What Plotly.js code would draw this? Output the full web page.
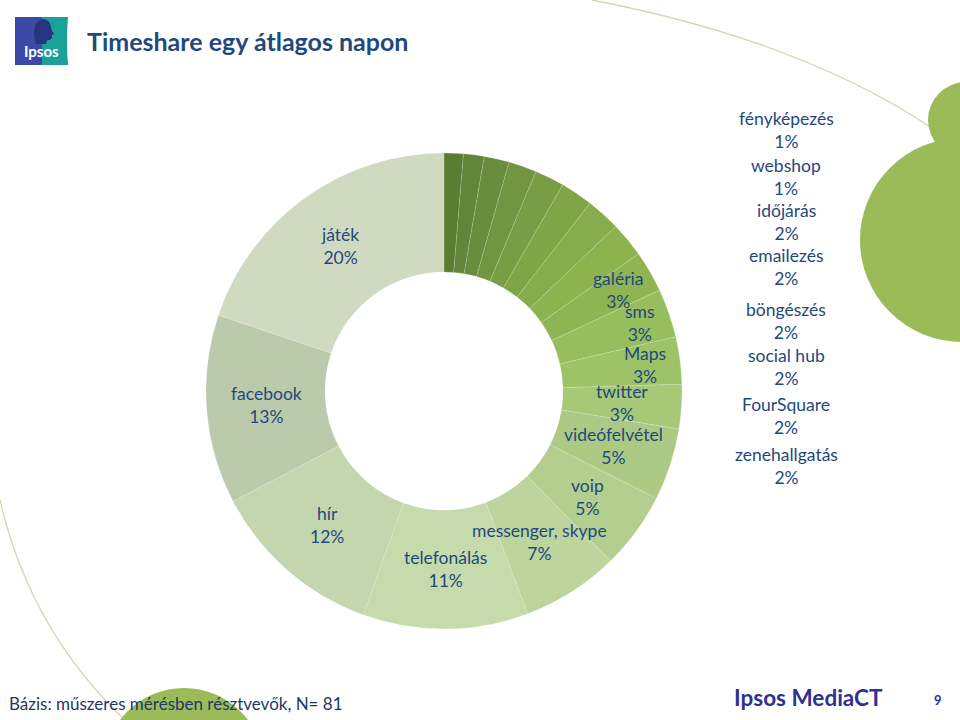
<!DOCTYPE html>
<html>
<head>
<meta charset="utf-8">
<script src="https://cdn.plot.ly/plotly-3.0.1.min.js"></script>
<style>html,body{margin:0;padding:0;background:#fff;}#chart{width:960px;height:720px;}</style>
</head>
<body>
<div id="chart"></div>
<script>
// ---- data ----
const categories = ["fényképezés","webshop","időjárás","emailezés","böngészés","social hub","FourSquare","zenehallgatás","galéria","sms","Maps","twitter","videófelvétel","voip","messenger, skype","telefonálás","hír","facebook","játék"];
// share of time (%); labels show the rounded value
const shares = [1.3,1.4,1.7,1.9,2.0,2.2,2.3,2.4,2.8,3.3,3.2,3.0,4.9,5.2,6.6,11.2,11.8,12.8,19.8];
const sliceColors = ["#5b7d31","#62853a","#698d3d","#719540","#789d44","#80a547","#87ac4b","#8db34f","#8fb553","#97be5d","#9dc367","#a6c877","#adca84","#b4ce8f","#bdd49d","#c6dbab","#c4d6ad","#bccaac","#cfdac1"];
const titleText = "Timeshare egy átlagos napon";
const footnote = "Bázis: műszeres mérésben résztvevők, N= 81";
const brand = "Ipsos MediaCT";
const pageNo = "9";

const textCol = "#1f497d";
const font = "Lato, 'Open Sans', sans-serif";
const smallLimit = 2.5;
const pct = v => Math.round(v) + "%";

const dom = {x: [0.2146, 0.7104], y: [0.1264, 0.7875]};
const pie = {
  type: "pie",
  labels: categories,
  values: shares,
  sort: false,
  direction: "clockwise",
  rotation: 0,
  hole: 0.5,
  marker: {colors: sliceColors, line: {color: "rgba(255,255,255,0.25)", width: 0.6}},
  textinfo: "none",
  domain: dom,
  hoverinfo: "none",
  showlegend: false
};

// ---- label placement (layout) ----
const W = 960, H = 720;
const cx = (dom.x[0] + dom.x[1]) / 2 * W;
const cy = H - (dom.y[0] + dom.y[1]) / 2 * H;
const R = (dom.y[1] - dom.y[0]) * H / 2;
const radialPos = {"galéria": 0.845, "sms": 0.87, "Maps": 0.85};
const total = shares.reduce((a, b) => a + b, 0);
const annotations = [];
const lblFont = {family: font, size: 17.5, color: textCol};
let cum = 0;
const sideY = [130, 177, 222, 267, 321, 367, 416, 466];
let k = 0;
categories.forEach((c, i) => {
  const v = shares[i];
  const mid = (cum + v / 2) / total * 2 * Math.PI;
  cum += v;
  const txt = c + "<br>" + pct(v);
  if (v < smallLimit) {
    annotations.push({x: 786, y: sideY[k++], xref: "x", yref: "y", text: txt,
      showarrow: false, font: lblFont, xanchor: "center", yanchor: "middle"});
  } else {
    const r = R * (radialPos[c] || 0.75);
    annotations.push({x: cx + r * Math.sin(mid), y: cy - r * Math.cos(mid), xref: "x", yref: "y", text: txt,
      showarrow: false, font: lblFont, xanchor: "center", yanchor: "middle"});
  }
});
annotations.push({x: 85, y: 41, xref: "x", yref: "y", text: "<b>" + titleText + "</b>", showarrow: false,
  xanchor: "left", yanchor: "middle", font: {family: font, size: 25, color: textCol}});
annotations.push({x: 7, y: 703, xref: "x", yref: "y", text: footnote, showarrow: false,
  xanchor: "left", yanchor: "middle", font: {family: font, size: 17, color: "#1f3864"}});
annotations.push({x: 808, y: 697, xref: "x", yref: "y", text: "<b>" + brand + "</b>", showarrow: false,
  xanchor: "center", yanchor: "middle", font: {family: font, size: 22.5, color: "#2e3192"}});
annotations.push({x: 938, y: 700, xref: "x", yref: "y", text: "<b>" + pageNo + "</b>", showarrow: false,
  xanchor: "center", yanchor: "middle", font: {family: font, size: 13, color: "#2e3192"}});
annotations.push({x: 41, y: 51, xref: "x", yref: "y", text: "<b>Ipsos</b>", showarrow: false,
  xanchor: "center", yanchor: "middle", font: {family: font, size: 15, color: "#ffffff"}});

const deco = "#d7d4b4";
const green = "#9bbb59";
const shapes = [
  {type: "path", xref: "x", yref: "y", path: "M592,0 Q800,40 932,128", line: {color: deco, width: 1.3}, layer: "below"},
  {type: "path", xref: "x", yref: "y", path: "M0,500 Q30,630 125,720", line: {color: deco, width: 1.3}, layer: "below"},
  {type: "circle", xref: "x", yref: "y", x0: 928, x1: 1004, y0: 82, y1: 158, fillcolor: green, line: {width: 0}, layer: "below"},
  {type: "circle", xref: "x", yref: "y", x0: 860, x1: 1064, y0: 138, y1: 342, fillcolor: green, line: {width: 0}, layer: "below"},
  {type: "circle", xref: "x", yref: "y", x0: 104, x1: 264, y0: 688, y1: 848, fillcolor: green, line: {width: 0}, layer: "below"},
  // Ipsos logo
  {type: "rect", xref: "x", yref: "y", x0: 15, x1: 42, y0: 17, y1: 65, fillcolor: "#3a4aa6", line: {width: 0}, layer: "below"},
  {type: "path", xref: "x", yref: "y", path: "M42,17 L68,17 Q66,41 68,65 L42,65 Z", fillcolor: "#1aa29a", line: {width: 0}, layer: "below"},
  {type: "path", xref: "x", yref: "y", path: "M35,41 Q33,33 35,26 Q38,19 44,19 Q50,20 51,27 L52,31 L54,34 L52,35 L52,38 Q50,41 47,40 L46,44 L36,44 Z", fillcolor: "#27357f", line: {width: 0}, layer: "below"}
];

const layout = {
  width: W, height: H,
  margin: {l: 0, r: 0, t: 0, b: 0},
  paper_bgcolor: "#ffffff", plot_bgcolor: "rgba(0,0,0,0)",
  xaxis: {range: [0, W], visible: false, fixedrange: true, domain: [0, 1]},
  yaxis: {range: [H, 0], visible: false, fixedrange: true, domain: [0, 1]},
  annotations: annotations,
  shapes: shapes,
  showlegend: false
};

Plotly.newPlot("chart", [pie], layout, {displayModeBar: false, staticPlot: true});
</script>
</body>
</html>
